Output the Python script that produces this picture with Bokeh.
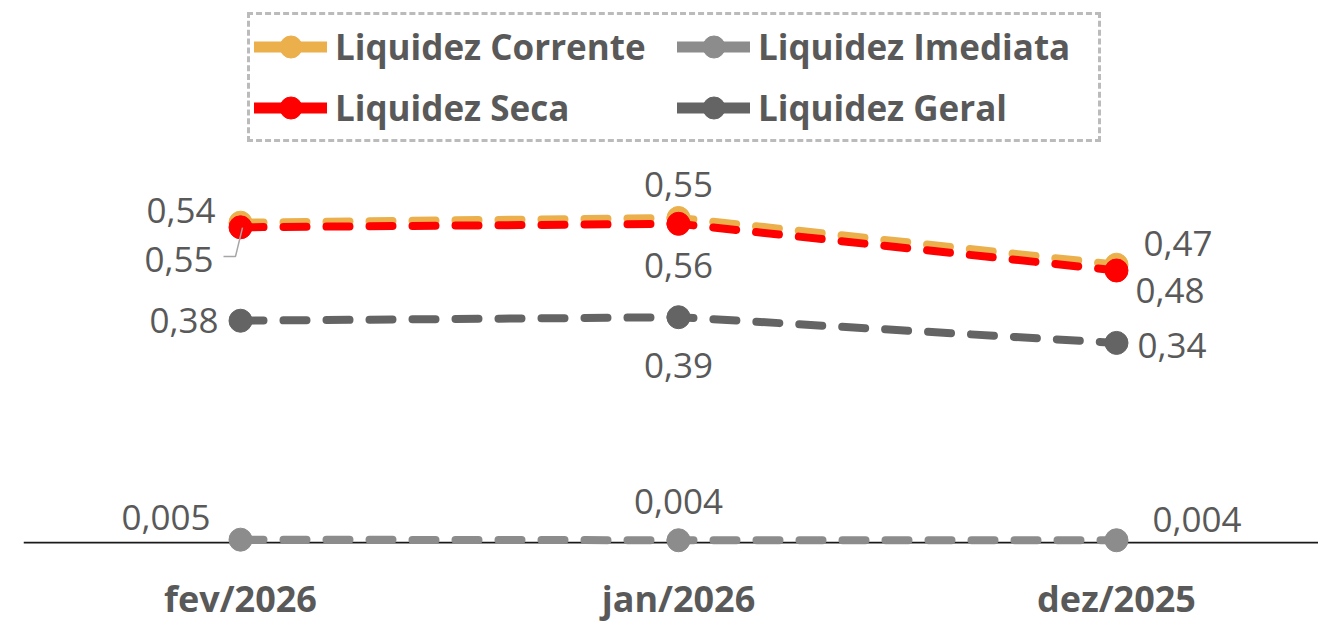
from bokeh.plotting import figure
from bokeh.models import ColumnDataSource, Range1d, FixedTicker, Legend, LegendItem, Span
from bokeh.core.properties import value
from bokeh.embed import file_html
from bokeh.resources import INLINE

# ---- data ----
categories = ["fev/2026", "jan/2026", "dez/2025"]
series_names = ["Liquidez Corrente", "Liquidez Imediata", "Liquidez Seca", "Liquidez Geral"]
corrente = [0.548, 0.556, 0.476]
imediata = [0.005, 0.004, 0.004]
seca = [0.540, 0.546, 0.466]
geral = [0.380, 0.386, 0.342]

colors = {"Liquidez Corrente": "#EBB04C", "Liquidez Imediata": "#8C8C8C",
          "Liquidez Seca": "#FF0000", "Liquidez Geral": "#646464"}

xs = list(range(len(categories)))

FONT = "Open Sans"
TXT = "#595959"
PX_X = 438.0   # px per x unit
PX_Y = 587.0   # px per y unit

p = figure(width=1318, height=625, output_backend="svg", toolbar_location=None,
           x_range=Range1d(-217 / PX_X, 1078 / PX_X),
           y_range=Range1d(-16 / PX_Y, 545 / PX_Y),
           min_border_left=23, min_border_right=0, min_border_top=0, min_border_bottom=64)
p.outline_line_color = None
p.grid.visible = False
p.yaxis.visible = False
p.xaxis.ticker = FixedTicker(ticks=xs)
p.xaxis.major_label_overrides = {i: c for i, c in enumerate(categories)}
p.xaxis.axis_line_color = None
p.xaxis.major_tick_line_color = None
p.xaxis.minor_tick_line_color = None
p.xaxis.major_label_text_font = FONT
p.xaxis.major_label_text_font_size = "36px"
p.xaxis.major_label_text_font_style = "bold"
p.xaxis.major_label_text_color = TXT
p.xaxis.major_label_standoff = 9

p.add_layout(Span(location=0, dimension="width", line_color="#1a1a1a", line_width=1.8, level="underlay"))

data = {"Liquidez Corrente": corrente, "Liquidez Imediata": imediata,
        "Liquidez Seca": seca, "Liquidez Geral": geral}

for name in ["Liquidez Imediata", "Liquidez Geral", "Liquidez Corrente", "Liquidez Seca"]:
    src = ColumnDataSource(dict(x=xs, y=data[name]))
    p.line("x", "y", source=src, line_color=colors[name], line_width=8,
           line_dash="23 20", line_cap="round")
    p.scatter("x", "y", source=src, size=23, marker="circle",
              fill_color=colors[name], line_color=colors[name])

# leader line for the fev/2026 'Corrente' label
lx = [xs[0] + d / PX_X for d in (-17, -5, 2)]
ly = [corrente[0] - d / PX_Y for d in (34, 34, 5)]
p.line(lx, ly, line_color="#A6A6A6", line_width=1.5)

# ---- data labels ----
def fmt(v, nd):
    return f"{v:.{nd}f}".replace(".", ",")

lab_x, lab_y, lab_t, lab_dx, lab_dy, lab_al = [], [], [], [], [], []
offsets = {
    "Liquidez Seca": [(-25, -17, "right"), (0, -39, "center"), (27, -27, "left")],
    "Liquidez Corrente": [(-27, 37, "right"), (0, 48, "center"), (19, 26, "left")],
    "Liquidez Geral": [(-22, 0, "right"), (0, 48, "center"), (21, 3, "left")],
    "Liquidez Imediata": [(-30, -22, "right"), (0, -39, "center"), (36, -21, "left")],
}
ndec = {"Liquidez Seca": 2, "Liquidez Corrente": 2, "Liquidez Geral": 2, "Liquidez Imediata": 3}
for name, offs in offsets.items():
    for i, (dx, dy, al) in enumerate(offs):
        lab_x.append(xs[i]); lab_y.append(data[name][i]); lab_t.append(fmt(data[name][i], ndec[name]))
        lab_dx.append(dx); lab_dy.append(dy); lab_al.append(al)
lsrc = ColumnDataSource(dict(x=lab_x, y=lab_y, text=lab_t, dx=lab_dx, dy=lab_dy, al=lab_al))
p.text("x", "y", text="text", source=lsrc, x_offset="dx", y_offset="dy", text_align="al",
       text_baseline="middle", text_font=value(FONT), text_font_size="35px", text_color=TXT)

# ---- legend (solid glyphs, as in the reference) ----
nan = float("nan")
legend_rends = {}
for name in series_names:
    lr = p.line(x=[nan, nan], y=[nan, nan], line_color=colors[name], line_width=11, line_cap="round")
    sr = p.scatter(x=[nan], y=[nan], marker="circle", fill_color=colors[name], line_color=colors[name])
    legend_rends[name] = [lr, sr]
# items are laid out column by column: column 1 = Corrente, Seca; column 2 = Imediata, Geral
order = ["Liquidez Corrente", "Liquidez Seca", "Liquidez Imediata", "Liquidez Geral"]
items = [LegendItem(label=n, renderers=legend_rends[n]) for n in order]

legend = Legend(items=items, ncols=2, location=(224, 416),
                label_text_font=FONT, label_text_font_size="35px", label_text_font_style="bold",
                label_text_color=TXT, glyph_width=73, glyph_height=55, label_standoff=8,
                label_width=336, padding=4, spacing=6, margin=0,
                border_line_color="#7A7A7A", border_line_width=3, border_line_dash="9 5",
                background_fill_color="white", background_fill_alpha=1.0)
p.add_layout(legend)

open("out.html", "w").write(file_html(p, INLINE))
